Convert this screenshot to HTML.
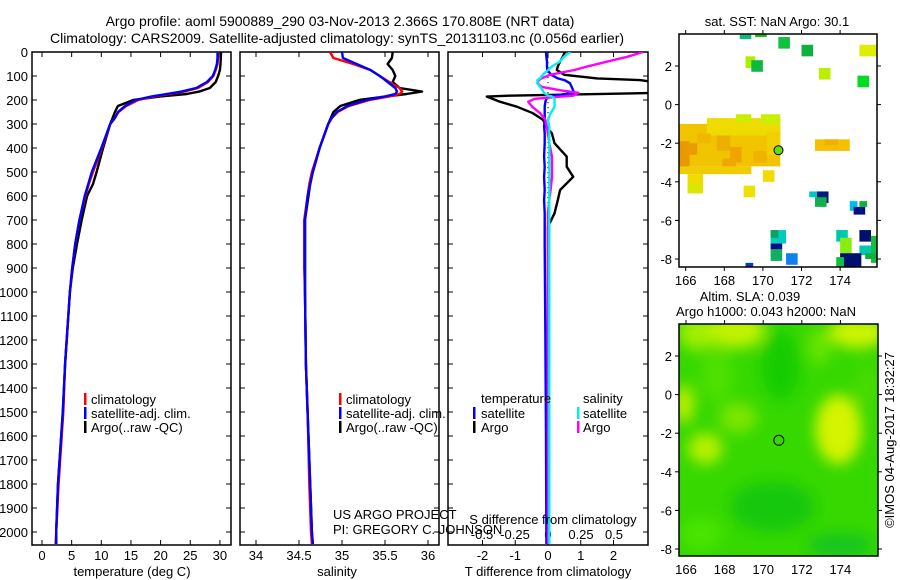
<!DOCTYPE html>
<html><head><meta charset="utf-8"><style>
body{margin:0;background:#fff}
svg{display:block;font-family:"Liberation Sans",sans-serif}
text{font-size:13px;fill:#000}
</style></head><body>
<svg id="s" width="900" height="580" viewBox="0 0 900 580">
<defs>
<clipPath id="c1"><rect x="32" y="52" width="199" height="493"/></clipPath>
<clipPath id="c2"><rect x="240" y="52" width="199" height="493"/></clipPath>
<clipPath id="c3"><rect x="448" y="52" width="200" height="493"/></clipPath>
<clipPath id="cm1"><rect x="679" y="34" width="198" height="233"/></clipPath>
<clipPath id="cm2"><rect x="679" y="324" width="199" height="232"/></clipPath>
<filter id="bl" x="-50%" y="-50%" width="200%" height="200%"><feGaussianBlur stdDeviation="7"/></filter>
</defs>
<text x="340" y="26" text-anchor="middle" style="font-size:14px">Argo profile: aoml 5900889_290 03-Nov-2013 2.366S 170.808E (NRT data)</text>
<text x="337" y="43" text-anchor="middle" style="font-size:14px">Climatology: CARS2009. Satellite-adjusted climatology: synTS_20131103.nc (0.056d earlier)</text>
<text x="777" y="26" text-anchor="middle">sat. SST: NaN Argo: 30.1</text>
<text x="750" y="301" text-anchor="middle">Altim. SLA: 0.039</text>
<text x="766" y="316" text-anchor="middle">Argo h1000: 0.043 h2000: NaN</text>
<text transform="translate(894,440) rotate(-90)" text-anchor="middle">©IMOS 04-Aug-2017 18:32:27</text>
<g id="g"></g>
</svg>
<script>
// ---- data ----
const depths = [0,25,50,75,100,125,150,165,175,185,200,225,250,275,300,400,500,550,600,700,800,900,1000,1300,1500,1800,2000,2050];
const tempArgo = [30.2,30.15,30.1,30.0,29.7,29.3,28.3,26.5,24.4,20,15.4,12.8,12.3,11.9,11.5,10.3,9.2,8.6,7.6,6.7,5.9,5.2,4.7,3.9,3.5,2.7,2.4,2.4];
const tempSat  = [29.6,29.6,29.5,29.2,28.8,27.8,26.0,23.5,21.0,18.5,15.8,14.0,12.8,12.3,11.5,10.0,8.4,7.8,7.2,6.3,5.6,5.1,4.7,3.9,3.5,2.7,2.4,2.4];
const tempClim = [29.7,29.7,29.6,29.3,28.9,28.0,26.3,24.0,21.5,19.0,16.2,14.2,12.9,12.3,11.5,10.1,8.6,7.9,7.3,6.3,5.6,5.1,4.7,3.9,3.6,2.8,2.4,2.3];
const salArgo = [35.59,35.58,35.53,35.59,35.62,35.59,35.67,35.93,35.75,35.52,35.2,34.98,34.9,34.87,34.84,34.74,34.66,34.63,34.61,34.57,34.57,34.57,34.57,34.58,34.6,34.63,34.65,34.66];
const salSat  = [35.0,35.01,35.17,35.33,35.44,35.53,35.62,35.64,35.62,35.5,35.29,35.06,34.94,34.88,34.84,34.74,34.66,34.63,34.6,34.57,34.57,34.57,34.57,34.58,34.6,34.63,34.65,34.66];
const salClim = [34.86,34.9,35.13,35.33,35.44,35.55,35.67,35.7,35.67,35.55,35.32,35.08,34.95,34.88,34.84,34.74,34.65,34.62,34.6,34.56,34.56,34.56,34.57,34.58,34.6,34.62,34.64,34.65];
const dDepth = [0,20,40,60,75,95,110,117,130,145,160,170,182,186,195,207,228,255,283,311,339,380,436,478,520,575,617,672,728,800,1200,1600,2050];
const dTsat  = [-0.06,-0.05,-0.03,-0.03,-0.02,0.1,0.3,0.5,0.67,0.72,0.77,0.8,0.15,0.05,-0.05,-0.08,-0.1,-0.1,-0.1,-0.12,-0.1,-0.1,-0.12,-0.1,-0.12,-0.1,-0.12,-0.1,-0.1,-0.1,-0.08,-0.06,-0.05];
const dTargo = [0.52,0.45,0.37,0.3,0.27,0.5,1.5,2.8,3.5,3.5,3.5,3.5,-1.2,-1.87,-1.7,-1.47,-0.95,-0.46,-0.15,-0.05,0.12,0.2,0.57,0.57,0.77,0.37,0.3,0.2,0,0,0,0,0];
const dSsat  = [0.17,0.12,0.09,0.03,0,-0.04,-0.06,-0.08,-0.08,-0.06,-0.04,-0.03,0,0.03,0.05,0.05,0.05,0.02,0,0.01,0.01,0.01,0.01,0.01,0.01,0.01,0.01,0.01,0.01,0.01,0.01,0.01,0.01];
const dSargo = [0.72,0.6,0.45,0.3,0.2,0.015,-0.05,-0.07,-0.08,-0.05,0.1,0.23,0.19,0.1,-0.1,-0.15,-0.12,-0.06,-0.02,-0.01,0,0.01,0.03,0.03,0.03,0.02,0.01,0,0,0,0,0,0];
const depthTicks = [0,100,200,300,400,500,600,700,800,900,1000,1100,1200,1300,1400,1500,1600,1700,1800,1900,2000];
const tempTicks = [0,5,10,15,20,25,30];
const salTicks = [34,34.5,35,35.5,36];
const tdTicks = [-2,-1,0,1,2];
const sdTicks = [-0.5,-0.25,0,0.25,0.5];
const lonTicks = [166,168,170,172,174];
const latTicks = [2,0,-2,-4,-6,-8];
// SST observation boxes: [lon0, lat0, lon1, lat1, color]
const sstCells = [
[165.65,-1.0,170.9,-3.2,'#f2c400'],[167.1,-0.7,170.9,-1.6,'#eedc00'],[168.6,-0.5,169.4,-0.9,'#c8ee00'],
[169.9,-0.5,170.9,-1.0,'#c8ee00'],[165.65,-1.9,166.2,-3.4,'#e89800'],
[166.0,-2.0,166.6,-2.6,'#ec9c00'],[167.6,-1.6,168.3,-2.4,'#eeb000'],[168.3,-2.2,168.9,-3.0,'#f0a400'],
[167.9,-2.8,168.6,-3.2,'#eea800'],[166.6,-1.5,167.3,-2.0,'#f0b800'],[169.5,-2.4,170.2,-3.0,'#f0b400'],
[170.2,-1.4,170.9,-2.6,'#f0d000'],[165.65,-3.2,169.4,-3.6,'#f0cc00'],[166.1,-3.6,166.9,-4.6,'#eedc00'],
[166.1,-4.1,166.8,-4.6,'#d8e800'],
[170.0,-3.4,170.6,-4.0,'#f0dc00'],[169.0,-4.2,169.6,-4.8,'#eee000'],[172.7,-1.8,174.5,-2.4,'#f4c000'],
[173.2,-1.8,173.9,-2.1,'#f0b000'],
[168.8,3.7,169.4,3.4,'#00c080'],[169.6,3.7,170.2,3.5,'#10c020'],[170.8,3.5,171.4,2.9,'#10c040'],
[172.0,3.1,172.6,2.5,'#10b040'],[175.0,3.1,175.9,2.5,'#ddee00'],[169.1,2.5,169.6,1.9,'#aaee00'],
[169.4,2.3,170.0,1.7,'#10b840'],[172.9,1.9,173.5,1.3,'#bbee00'],[174.9,1.5,175.5,0.9,'#00dd20'],
[172.4,-4.5,172.8,-4.8,'#00c8c0'],[172.8,-4.5,173.4,-5.1,'#001c80'],[172.7,-4.8,173.3,-5.3,'#10b050'],
[174.5,-5.0,174.9,-5.5,'#00bbee'],[175.0,-5.0,175.4,-5.3,'#10b040'],[174.7,-5.3,175.3,-5.7,'#001080'],
[170.4,-6.5,171.2,-7.2,'#00ccc0'],[170.4,-6.5,170.8,-6.9,'#10a060'],[170.4,-7.2,171.0,-7.5,'#001080'],
[170.4,-7.5,171.0,-8.1,'#10b060'],[171.2,-7.7,171.8,-8.3,'#1080ee'],[169.1,-8.2,169.5,-8.4,'#0040c0'],
[173.8,-6.5,174.4,-7.1,'#00c8b0'],[174.0,-6.9,174.6,-7.7,'#88ee10'],[175.0,-6.5,175.6,-7.1,'#001070'],
[175.6,-6.8,175.9,-8.2,'#10c040'],[175.0,-7.3,175.6,-7.8,'#00c8b0'],[175.3,-7.7,175.9,-8.0,'#10b040'],
[174.0,-7.7,175.1,-8.5,'#001070'],[173.8,-7.9,174.2,-8.5,'#10c040']
];
// SLA patches: [lon, lat, rLon, rLat, color]
const slaPatches = [
[166.6,3.2,1.0,0.9,'#a0ee00'],[168.6,3.3,1.5,0.9,'#c0f200'],[174.9,3.2,1.5,0.8,'#ccf400'],
[173.9,-1.8,1.2,1.8,'#d4f400'],[167.0,-2.8,0.9,0.8,'#b8f000'],[165.9,-0.5,0.5,1.0,'#c0f000'],
[167.6,1.0,0.8,1.4,'#50e000'],[175.4,0.5,0.6,1.0,'#48dc00'],[170.9,1.5,1.0,1.8,'#18cc00'],
[170.5,-5.8,2.2,1.3,'#16c810'],[166.8,-7.2,1.1,0.9,'#48e400'],[174.0,-7.8,1.7,0.6,'#14c420'],
[172.9,2.5,0.6,1.0,'#66e400'],[168.7,-1.2,1.0,0.8,'#7ae600']
];
const argoLon = 170.808, argoLat = -2.366;

// ---- helpers ----
const NS='http://www.w3.org/2000/svg', G=document.getElementById('g');
function mk(t,a,p){const e=document.createElementNS(NS,t);for(const k in a)e.setAttribute(k,a[k]);(p||G).appendChild(e);return e;}
const yD = d => 52 + d*0.24;
const xT = v => 42 + v*5.93;
const xS = v => 256 + (v-34)*86;
const xTd = v => 548 + v*32.75;
const xSd = v => 548 + v*132;
const mX1 = lon => 685.7 + (lon-166)*19.3, mY1 = lat => 66 - (lat-2)*19.3;
const mX2 = lon => 686 + (lon-166)*19.3, mY2 = lat => 356 - (lat-2)*19.3;

function frame(x,y,w,h,name){
  const r=mk('rect',{x:x,y:y,width:w,height:h,fill:'none',stroke:'#000','stroke-width':1.5});
  
  
}
function line(xs,ds,fx,col,clip,name,w){
  let d='';for(let i=0;i<xs.length;i++)d+=(i?'L':'M')+fx(xs[i]).toFixed(1)+' '+yD(ds[i]).toFixed(1);
  const p=mk('path',{d:d,fill:'none',stroke:col,'stroke-width':w||2.4,'clip-path':'url(#'+clip+')','stroke-linejoin':'round'});
  
  
}
function depthTicksOn(x0,x1,labels){
  depthTicks.forEach(d=>{
    const y=yD(d);
    mk('line',{x1:x0,y1:y,x2:x0+5,y2:y,stroke:'#000'});
    mk('line',{x1:x1-5,y1:y,x2:x1,y2:y,stroke:'#000'});
    if(labels){const t=mk('text',{x:28,y:y+5,'text-anchor':'end'});t.textContent=d;
      
      }
  });
}
function xTicks(vals,fx,top,bot,ly,name){
  vals.forEach(v=>{const x=fx(v);
    mk('line',{x1:x,y1:top,x2:x,y2:top+5,stroke:'#000'});
    mk('line',{x1:x,y1:bot-5,x2:x,y2:bot,stroke:'#000'});
    const t=mk('text',{x:x,y:ly,'text-anchor':'middle'});t.textContent=v;
    
    });
}
function txt(x,y,s,name,anchor){const t=mk('text',{x:x,y:y,'text-anchor':anchor||'start'});t.textContent=s;
  
  return t;}
function legBar(x,y,c){mk('rect',{x:x,y:y-11,width:2.5,height:12,fill:c});}

// ---- panel 1: temperature ----
frame(32,52,199,493,'temperature-panel');
depthTicksOn(32,231,true);
xTicks(tempTicks,xT,52,545,560,'temperature-tick-label');
line(tempArgo,depths,xT,'#000','c1','temp-argo-line');
line(tempClim,depths,xT,'#f00','c1','temp-climatology-line');
line(tempSat,depths,xT,'#00f','c1','temp-satellite-line');
txt(132,576,'temperature (deg C)','temperature-axis-title','middle');
legBar(84,404,'#f00');txt(91,404,'climatology','legend-climatology');
legBar(84,418,'#00f');txt(91,418,'satellite-adj. clim.','legend-satellite');
legBar(84,432,'#000');txt(91,432,'Argo(..raw -QC)','legend-argo');

// ---- panel 2: salinity ----
frame(240,52,199,493,'salinity-panel');
depthTicksOn(240,439,false);
xTicks(salTicks,xS,52,545,560,'salinity-tick-label');
line(salArgo,depths,xS,'#000','c2','sal-argo-line');
line(salClim,depths,xS,'#f00','c2','sal-climatology-line');
line(salSat,depths,xS,'#00f','c2','sal-satellite-line');
txt(337,576,'salinity','salinity-axis-title','middle');
legBar(339,404,'#f00');txt(346,404,'climatology','legend-climatology-2');
legBar(339,418,'#00f');txt(346,418,'satellite-adj. clim.','legend-satellite-2');
legBar(339,432,'#000');txt(346,432,'Argo(..raw -QC)','legend-argo-2');
txt(333,519,'US ARGO PROJECT','project-credit');
txt(333,534,'PI: GREGORY C. JOHNSON','pi-credit');

// ---- panel 3: differences ----
frame(448,52,200,493,'difference-panel');
depthTicksOn(448,648,false);
xTicks(tdTicks,xTd,52,545,560,'tdiff-tick-label');
sdTicks.forEach(v=>{const t=txt(xSd(v),539,v,'sdiff-tick-label','middle');});
for(let y=52;y<545;y+=5)mk('rect',{x:547.5,y:y,width:1,height:1.2,fill:'#000'});
line(dTargo,dDepth,xTd,'#000','c3','tdiff-argo-line');
line(dTsat,dDepth,xTd,'#00f','c3','tdiff-satellite-line');
line(dSargo,dDepth,xSd,'#f0f','c3','sdiff-argo-line');
line(dSsat,dDepth,xSd,'#0ee','c3','sdiff-satellite-line');
txt(548,576,'T difference from climatology','tdiff-axis-title','middle');
txt(553,524,'S difference from climatology','sdiff-axis-title','middle');
txt(481,403,'temperature','legend-temperature-header');
txt(583,403,'salinity','legend-salinity-header');
legBar(473,418,'#00f');txt(481,418,'satellite','legend-t-satellite');
legBar(473,432,'#000');txt(481,432,'Argo','legend-t-argo');
legBar(577,418,'#0ee');txt(583,418,'satellite','legend-s-satellite');
legBar(577,432,'#f0f');txt(583,432,'Argo','legend-s-argo');

// ---- map 1: SST ----
sstCells.forEach(c=>{
  const x0=mX1(c[0]),x1=mX1(c[2]),y0=mY1(c[1]),y1=mY1(c[3]);
  const r=mk('rect',{x:x0,y:y0,width:x1-x0,height:y1-y0,fill:c[4],'clip-path':'url(#cm1)'});
  
  
});
const ac=mk('circle',{cx:mX1(argoLon),cy:mY1(argoLat),r:4.5,fill:'#66dd00',stroke:'#000','stroke-width':1});


frame(679,34,198,233,'sst-map');
lonTicks.forEach(v=>{const x=mX1(v);mk('line',{x1:x,y1:30,x2:x,y2:34,stroke:'#000'});mk('line',{x1:x,y1:267,x2:x,y2:271,stroke:'#000'});
  txt(x,285,v,'sst-lon-label','middle');});
latTicks.forEach(v=>{const y=mY1(v);mk('line',{x1:675,y1:y,x2:679,y2:y,stroke:'#000'});mk('line',{x1:877,y1:y,x2:881,y2:y,stroke:'#000'});
  txt(672,y+5,v,'sst-lat-label','end');});

// ---- map 2: SLA ----
const bg=mk('rect',{x:679,y:324,width:199,height:232,fill:'#36d800'});


const pg=mk('g',{'clip-path':'url(#cm2)'});
const pg2=mk('g',{filter:'url(#bl)'},pg);
slaPatches.forEach(p=>{
  const e=mk('ellipse',{cx:mX2(p[0]),cy:mY2(p[1]),rx:p[2]*19.3,ry:p[3]*19.3,fill:p[4]},pg2);
  
  
});
const ac2=mk('circle',{cx:mX2(argoLon),cy:mY2(argoLat),r:5,fill:'none',stroke:'#000','stroke-width':1});


frame(679,324,199,232,'sla-map');
lonTicks.forEach(v=>{const x=mX2(v);mk('line',{x1:x,y1:320,x2:x,y2:324,stroke:'#000'});
  txt(x,574,v,'sla-lon-label','middle');});
latTicks.forEach(v=>{const y=mY2(v);mk('line',{x1:675,y1:y,x2:679,y2:y,stroke:'#000'});mk('line',{x1:878,y1:y,x2:882,y2:y,stroke:'#000'});
  txt(672,y+5,v,'sla-lat-label','end');});
</script>
</body></html>
